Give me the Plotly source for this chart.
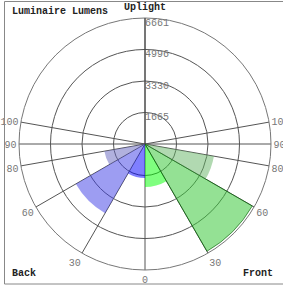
import plotly.graph_objects as go

# angular zones (degrees from nadir)
front_theta = [15, 45, 70]
front_width = [30, 30, 20]
front_lumens = [2270, 6550, 3700]
back_theta = [345, 315, 290]
back_width = [30, 30, 20]
back_lumens = [1800, 4220, 2180]

radial_ticks = [1665, 3330, 4996, 6661]
angle_tickvals = [0, 30, 60, 80, 90, 100, 180, 260, 270, 280, 300, 330]
angle_ticktext = ["0", "30", "60", "80", "90", "100", "", "100", "90", "80", "60", "30"]

front_colors = ["rgba(0,255,0,0.5)", "rgba(60,200,60,0.55)", "rgba(100,180,100,0.5)"]
back_colors = ["rgba(0,0,255,0.5)", "rgba(60,60,230,0.5)", "rgba(100,100,190,0.5)"]

mono = "Liberation Mono, Courier New, monospace"

fig = go.Figure()
fig.add_trace(go.Barpolar(r=front_lumens, theta=front_theta, width=front_width,
                          marker=dict(color=front_colors, line=dict(color="rgba(0,90,0,0.6)", width=[0, 1, 0])),
                          name="Front", hoverinfo="skip"))
fig.add_trace(go.Barpolar(r=back_lumens, theta=back_theta, width=back_width,
                          marker=dict(color=back_colors, line=dict(width=0)),
                          name="Back", hoverinfo="skip"))
# radial tick labels placed beside the uplight axis
fig.add_trace(go.Scatterpolar(r=radial_ticks, theta=[180] * len(radial_ticks), mode="text",
                              text=[str(v) for v in radial_ticks], textposition="bottom right",
                              textfont=dict(family=mono, size=10, color="#777"), hoverinfo="skip",
                              cliponaxis=False))

W, H = 283, 287
cx, cy, R = 145, 144, 126
fig.update_layout(
    width=W, height=H,
    margin=dict(l=0, r=0, t=0, b=0),
    paper_bgcolor="white", plot_bgcolor="white",
    showlegend=False,
    font=dict(family=mono, color="#777", size=10),
    polar=dict(
        domain=dict(x=[(cx - R) / W, (cx + R) / W], y=[1 - (cy + R) / H, 1 - (cy - R) / H]),
        bgcolor="white",
        barmode="overlay",
        radialaxis=dict(range=[0, 6661], tickvals=radial_ticks, showticklabels=False,
                        angle=90, showline=True, linecolor="#444", linewidth=1,
                        gridcolor="#555", gridwidth=1, ticks=""),
        angularaxis=dict(rotation=-90, direction="counterclockwise", tickmode="array",
                         tickvals=angle_tickvals, ticktext=angle_ticktext,
                         showline=True, linecolor="#777", linewidth=1,
                         gridcolor="#555", gridwidth=1, ticks="",
                         tickfont=dict(family=mono, size=10, color="#777")),
    ),
    shapes=[dict(type="rect", xref="paper", yref="paper", x0=4.5 / W, x1=286 / W, y0=1 - 284 / H, y1=1 - 1.5 / H,
                 line=dict(color="#888", width=1))],
    annotations=[
        dict(text="<b>Luminaire Lumens</b>", x=10 / W, y=1 - 12 / H, xref="paper", yref="paper",
             xanchor="left", yanchor="middle", showarrow=False, font=dict(family=mono, size=10, color="#222")),
        dict(text="<b>Uplight</b>", x=145 / W, y=1 - 8 / H, xref="paper", yref="paper",
             xanchor="center", yanchor="middle", showarrow=False, font=dict(family=mono, size=10, color="#222")),
        dict(text="<b>Back</b>", x=10 / W, y=1 - 273 / H, xref="paper", yref="paper",
             xanchor="left", yanchor="middle", showarrow=False, font=dict(family=mono, size=10, color="#222")),
        dict(text="<b>Front</b>", x=275 / W, y=1 - 273 / H, xref="paper", yref="paper",
             xanchor="right", yanchor="middle", showarrow=False, font=dict(family=mono, size=10, color="#222")),
    ],
)

fig.write_html("out.html", config={"displayModeBar": False},
               post_script="document.body.style.margin='0';document.body.style.overflow='hidden';")
